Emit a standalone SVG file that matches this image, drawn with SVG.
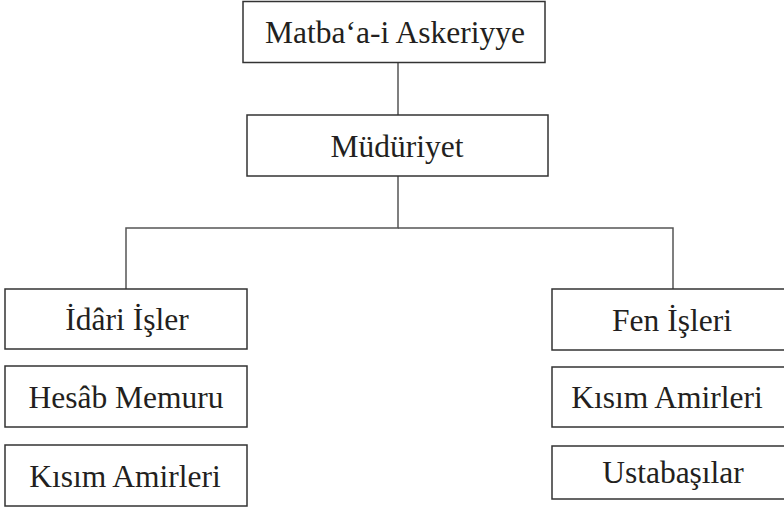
<svg xmlns="http://www.w3.org/2000/svg" width="784" height="510" viewBox="0 0 784 510">
<style>
.b{fill:#fff;stroke:#333;stroke-width:1.5}
text{font-family:'Liberation Serif','Times New Roman','DejaVu Serif',serif;font-size:31.5px;fill:#231f20;text-anchor:middle}
.c{fill:none;stroke:#555;stroke-width:1.5}
</style>
<rect width="784" height="510" fill="#fff"/>
<g id="connectors">
<path class="c" d="M398 62V115"/>
<path class="c" d="M398 176V228H126V289"/>
<path class="c" d="M398 228H673V289"/>
</g>
<g id="n1"><rect class="b" x="243" y="1.5" width="302" height="61"/><text x="395" y="43">Matba‘a-i Askeriyye</text></g>
<g id="n2"><rect class="b" x="247" y="115" width="301" height="61"/><text x="397" y="157">Müdüriyet</text></g>
<g id="n3"><rect class="b" x="5" y="289" width="242" height="60"/><text x="127" y="330">İdâri İşler</text></g>
<g id="n4"><rect class="b" x="5" y="366" width="242" height="61"/><text x="126" y="408">Hesâb Memuru</text></g>
<g id="n5"><rect class="b" x="5" y="445" width="242" height="61"/><text x="125" y="487">Kısım Amirleri</text></g>
<g id="n6"><rect class="b" x="552" y="289" width="236" height="61"/><text x="672" y="331">Fen İşleri</text></g>
<g id="n7"><rect class="b" x="552" y="367" width="236" height="60"/><text x="667" y="408">Kısım Amirleri</text></g>
<g id="n8"><rect class="b" x="552" y="446" width="236" height="53"/><text x="673" y="483">Ustabaşılar</text></g>
</svg>
